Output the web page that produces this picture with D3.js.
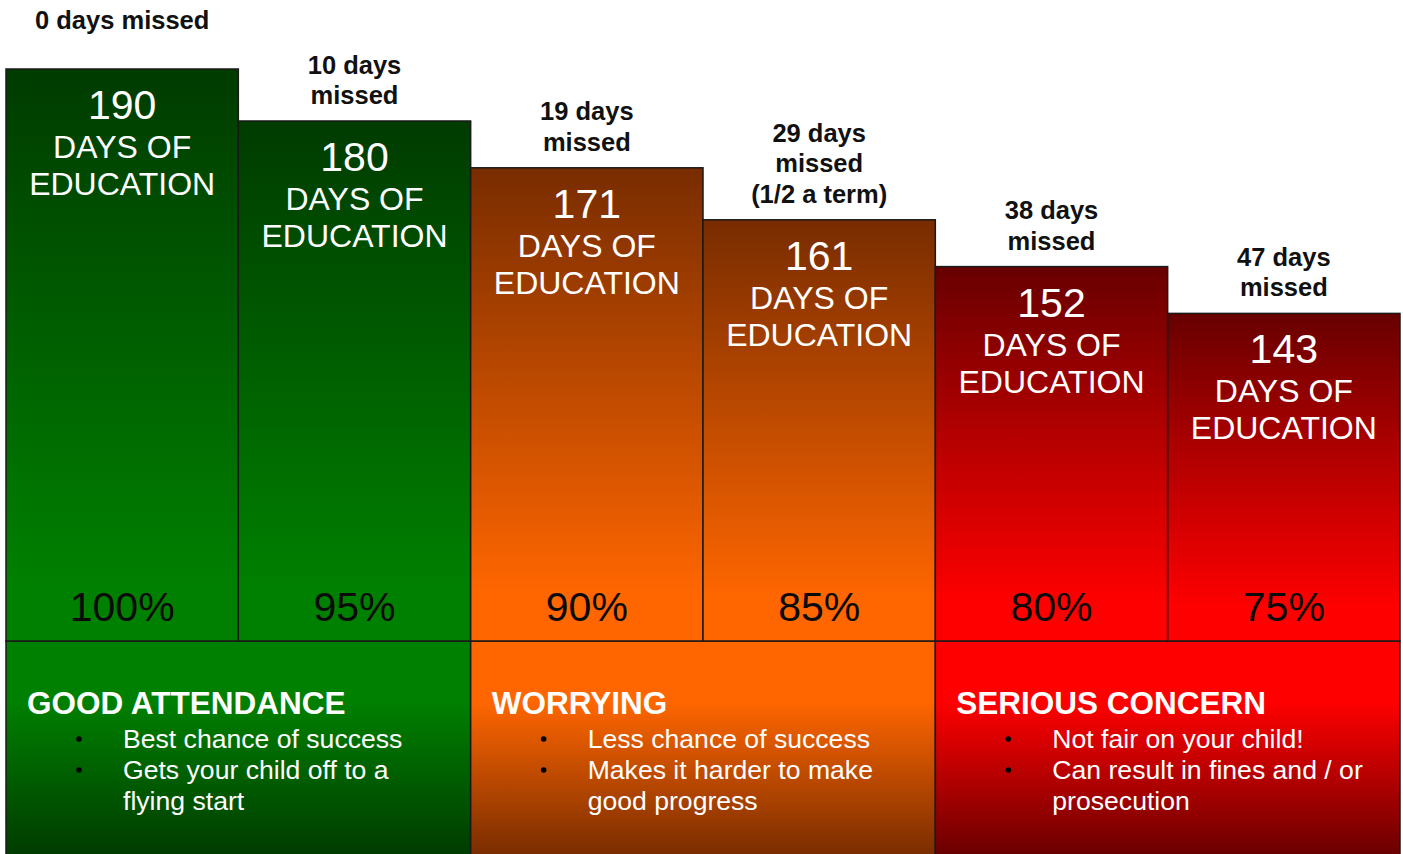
<!DOCTYPE html>
<html>
<head>
<meta charset="utf-8">
<script src="https://cdn.jsdelivr.net/npm/d3@7"></script>
<style>
  body { margin: 0; background: #fff; }
  svg { display: block; font-family: "Liberation Sans", Arial, sans-serif; }
</style>
</head>
<body>
<script>
// data
const daysOfEducation = [190, 180, 171, 161, 152, 143];
const attendance = [100, 95, 90, 85, 80, 75];
const missedLabels = [
  ["0 days missed"],
  ["10 days", "missed"],
  ["19 days", "missed"],
  ["29 days", "missed", "(1/2 a term)"],
  ["38 days", "missed"],
  ["47 days", "missed"]
];
const bandOfBar = [0, 0, 1, 1, 2, 2];
const bandNames = ["GOOD ATTENDANCE", "WORRYING", "SERIOUS CONCERN"];
const bandBullets = [
  [["Best chance of success"], ["Gets your child off to a", "flying start"]],
  [["Less chance of success"], ["Makes it harder to make", "good progress"]],
  [["Not fair on your child!"], ["Can result in fines and / or", "prosecution"]]
];

// colours per band: dark / bright
const bandDark = ["#003b00", "#782c00", "#680000"];
const bandBright = ["#008000", "#ff6600", "#ff0000"];

const W = 1403, H = 854;
const left = 6, right = 1400, base = 641;

const svg = d3.select("body").append("svg")
  .attr("width", W)
  .attr("height", H);

const defs = svg.append("defs");

// gradient for bars: dark at top, bright at bottom
bandNames.forEach((n, i) => {
  let g = defs.append("linearGradient")
    .attr("id", "bar" + i)
    .attr("x1", 0).attr("y1", 0).attr("x2", 0).attr("y2", 1);
  g.append("stop").attr("offset", "0%").attr("stop-color", bandDark[i]);
  g.append("stop").attr("offset", "90%").attr("stop-color", bandBright[i]);
  g.append("stop").attr("offset", "100%").attr("stop-color", bandBright[i]);

  // gradient for the panels below: bright at top, dark at bottom
  let p = defs.append("linearGradient")
    .attr("id", "panel" + i)
    .attr("x1", 0).attr("y1", 0).attr("x2", 0).attr("y2", 1);
  p.append("stop").attr("offset", "0%").attr("stop-color", bandBright[i]);
  p.append("stop").attr("offset", "28%").attr("stop-color", bandBright[i]);
  p.append("stop").attr("offset", "100%").attr("stop-color", bandDark[i]);
});

// scales
const x = d3.scaleBand()
  .domain(d3.range(daysOfEducation.length))
  .range([left, right])
  .padding(0);

const y = d3.scaleLinear()
  .domain([80, 190])
  .range([base, 69]);

const xBand = d3.scaleBand()
  .domain(d3.range(bandNames.length))
  .range([left, right])
  .padding(0);

// bottom panels
const panels = svg.selectAll(".panel")
  .data(bandNames)
  .enter()
  .append("g")
  .attr("class", "panel");

panels.append("rect")
  .attr("x", (d, i) => xBand(i))
  .attr("y", base)
  .attr("width", xBand.bandwidth())
  .attr("height", H - base + 2)
  .attr("fill", (d, i) => `url(#panel${i})`)
  .attr("stroke", "#1a1a1a")
  .attr("stroke-width", 1.5);

panels.append("text")
  .text(d => d)
  .attr("x", (d, i) => xBand(i) + 21)
  .attr("y", base + 73)
  .attr("fill", "#fff")
  .style("font-size", "31.5px")
  .style("font-weight", "bold");

panels.each(function (d, i) {
  let g = d3.select(this);
  let line = 0;
  bandBullets[i].forEach(b => {
    g.append("circle")
      .attr("cx", xBand(i) + 73)
      .attr("cy", base + 107 + line * 31 - 9)
      .attr("r", 2.8)
      .attr("fill", "#000");
    b.forEach(t => {
      g.append("text")
        .text(t)
        .attr("x", xBand(i) + 117)
        .attr("y", base + 107 + line * 31)
        .attr("fill", "#fff")
        .style("font-size", "26.6px");
      line++;
    });
  });
});

// bars
const bars = svg.selectAll(".bar")
  .data(daysOfEducation)
  .enter()
  .append("g")
  .attr("class", "bar");

bars.append("rect")
  .attr("x", (d, i) => x(i))
  .attr("y", d => y(d))
  .attr("width", x.bandwidth())
  .attr("height", d => base - y(d))
  .attr("fill", (d, i) => `url(#bar${bandOfBar[i]})`)
  .attr("stroke", "#1a1a1a")
  .attr("stroke-width", 1.5);

// big number + "DAYS OF EDUCATION"
bars.append("text")
  .text(d => d)
  .attr("x", (d, i) => x(i) + x.bandwidth() / 2)
  .attr("y", d => y(d) + 50)
  .attr("text-anchor", "middle")
  .attr("fill", "#fff")
  .style("font-size", "41px");

bars.append("text")
  .text("DAYS OF")
  .attr("x", (d, i) => x(i) + x.bandwidth() / 2)
  .attr("y", d => y(d) + 89)
  .attr("text-anchor", "middle")
  .attr("fill", "#fff")
  .style("font-size", "32px");

bars.append("text")
  .text("EDUCATION")
  .attr("x", (d, i) => x(i) + x.bandwidth() / 2)
  .attr("y", d => y(d) + 126)
  .attr("text-anchor", "middle")
  .attr("fill", "#fff")
  .style("font-size", "32px");

// percentages at the bottom of each bar
bars.append("text")
  .text((d, i) => attendance[i] + "%")
  .attr("x", (d, i) => x(i) + x.bandwidth() / 2)
  .attr("y", base - 20)
  .attr("text-anchor", "middle")
  .attr("fill", "#0a0a0a")
  .style("font-size", "41px");

// "x days missed" above each bar
bars.each(function (d, i) {
  let lines = missedLabels[i];
  let gap = lines.length === 1 ? 40 : 17;
  let t = d3.select(this).append("text")
    .attr("text-anchor", "middle")
    .attr("fill", "#111")
    .style("font-size", "25.5px")
    .style("font-weight", "bold");
  lines.forEach((l, k) => {
    t.append("tspan")
      .text(l)
      .attr("x", x(i) + x.bandwidth() / 2)
      .attr("y", y(d) - gap - (lines.length - 1 - k) * 30.5);
  });
});
</script>
</body>
</html>
